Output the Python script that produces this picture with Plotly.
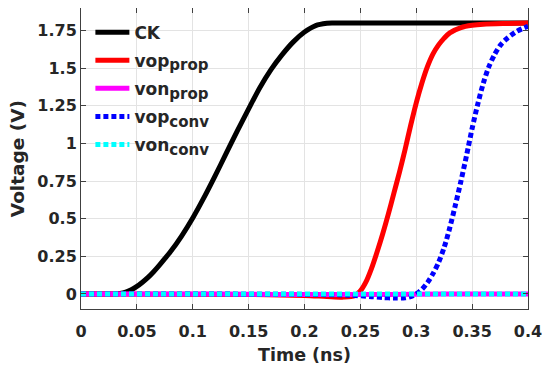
import plotly.graph_objects as go

# ---- data (time in ns, voltage in V) ----
t_ck = [0, 0.03, 0.035, 0.04, 0.045, 0.05, 0.055, 0.06, 0.065, 0.07, 0.075, 0.08, 0.09, 0.1,
        0.11, 0.12, 0.13, 0.14, 0.15, 0.16, 0.17, 0.18, 0.19, 0.2, 0.21, 0.22,
        0.225, 0.23, 0.4]
v_ck = [0, 0, 0.003, 0.012, 0.028, 0.05, 0.078, 0.11, 0.148, 0.19, 0.235, 0.28, 0.385, 0.505,
        0.64, 0.785, 0.935, 1.085, 1.23, 1.37, 1.49, 1.59, 1.675, 1.74, 1.783, 1.798,
        1.8, 1.8, 1.8]

t_vop_prop = [0, 0.15, 0.2, 0.22, 0.235, 0.245, 0.25, 0.255, 0.26, 0.265, 0.27, 0.275, 0.28,
              0.285, 0.29, 0.295, 0.3, 0.305, 0.31, 0.315, 0.32, 0.325, 0.33, 0.34, 0.35, 0.36,
              0.38, 0.4]
v_vop_prop = [0, -0.003, -0.01, -0.017, -0.021, -0.012, 0.02, 0.08, 0.17, 0.28, 0.40, 0.53, 0.67,
              0.81, 0.96, 1.12, 1.27, 1.40, 1.51, 1.595, 1.655, 1.70, 1.735, 1.77, 1.785, 1.792,
              1.797, 1.8]

t_von_prop = [0, 0.1, 0.15, 0.2, 0.25, 0.3, 0.35, 0.4]
v_von_prop = [0, 0, -0.002, -0.004, -0.004, -0.002, 0, 0]

t_vop_conv = [0, 0.2, 0.24, 0.26, 0.27, 0.28, 0.29, 0.295, 0.3, 0.305, 0.31, 0.315, 0.32, 0.325,
              0.33, 0.335, 0.34, 0.345, 0.35, 0.355, 0.36, 0.365, 0.37, 0.375, 0.38, 0.385,
              0.39, 0.395, 0.4]
v_vop_conv = [0, -0.003, -0.008, -0.018, -0.024, -0.027, -0.026, -0.018, 0.0, 0.03, 0.075, 0.135,
              0.21, 0.31, 0.44, 0.59, 0.75, 0.92, 1.10, 1.26, 1.40, 1.51, 1.59, 1.65, 1.69, 1.72,
              1.745, 1.763, 1.778]

t_von_conv = [0, 0.1, 0.2, 0.3, 0.4]
v_von_conv = [0, 0, 0, 0, 0]

x_ticks = [0, 0.05, 0.1, 0.15, 0.2, 0.25, 0.3, 0.35, 0.4]
x_tick_labels = ["0", "0.05", "0.1", "0.15", "0.2", "0.25", "0.3", "0.35", "0.4"]
y_ticks = [0, 0.25, 0.5, 0.75, 1, 1.25, 1.5, 1.75]
y_tick_labels = ["0", "0.25", "0.5", "0.75", "1", "1.25", "1.5", "1.75"]

FONT = "DejaVu Sans"
LW = 5
DOT = "5px,3px"
SUB = "<sub><span style='font-size:15px'>{}</span></sub>"
SPL = dict(shape="spline", smoothing=0.8)
TXT = "#262626"

fig = go.Figure()
fig.add_trace(go.Scatter(x=t_ck, y=v_ck, mode="lines", name="CK", legendgroup="a",
                         line=dict(color="black", width=LW, **SPL)))
fig.add_trace(go.Scatter(x=t_vop_prop, y=v_vop_prop, mode="lines", legendgroup="b",
                         name="vop" + SUB.format("prop"),
                         line=dict(color="#ff0000", width=LW, **SPL)))
fig.add_trace(go.Scatter(x=t_von_prop, y=v_von_prop, mode="lines", legendgroup="c",
                         name="von" + SUB.format("prop"),
                         line=dict(color="#ff00ff", width=LW, **SPL)))
fig.add_trace(go.Scatter(x=t_vop_conv, y=v_vop_conv, mode="lines", legendgroup="d",
                         name="vop" + SUB.format("conv"),
                         line=dict(color="#0000ff", width=LW, dash=DOT, **SPL)))
fig.add_trace(go.Scatter(x=t_von_conv, y=v_von_conv, mode="lines", legendgroup="e",
                         name="von" + SUB.format("conv"),
                         line=dict(color="#00ffff", width=LW, dash=DOT)))

axis_common = dict(
    showline=True, linecolor="#404040", linewidth=1, mirror="ticks",
    ticks="inside", ticklen=5, tickcolor="#404040", tickwidth=1,
    showgrid=True, gridcolor="#e3e3e3", gridwidth=1, zeroline=False,
    automargin=False,
    tickfont=dict(family=FONT, size=16, color=TXT, weight="bold"),
)

# page body has an 8px margin, so the figure is offset by 8px right and down
fig.update_layout(
    width=542, height=366,
    margin=dict(l=72.5, r=21.5, t=0, b=65.3),
    paper_bgcolor="white", plot_bgcolor="white",
    font=dict(family=FONT, color=TXT),
    showlegend=True,
    legend=dict(x=0.021, y=0.978, xanchor="left", yanchor="top",
                bgcolor="rgba(0,0,0,0)", borderwidth=0,
                font=dict(family=FONT, size=17, color=TXT, weight="bold"),
                itemwidth=34, tracegroupgap=3, traceorder="grouped"),
    xaxis=dict(range=[0, 0.4], tickvals=x_ticks, ticktext=x_tick_labels,
               ticklabelstandoff=8,
               title=dict(text="Time (ns)",
                          font=dict(family=FONT, size=17.5, color=TXT, weight="bold"),
                          standoff=8),
               **axis_common),
    yaxis=dict(range=[-0.1, 1.9], tickvals=y_ticks, ticktext=y_tick_labels,
               **axis_common),
    annotations=[dict(text="Voltage (V)", textangle=-90, xref="paper", yref="paper",
                      x=-0.1417, y=0.5, xanchor="center", yanchor="middle", showarrow=False,
                      font=dict(family=FONT, size=18.5, color=TXT, weight="bold"))],
)

fig.write_html("out.html", config={"displayModeBar": False})
